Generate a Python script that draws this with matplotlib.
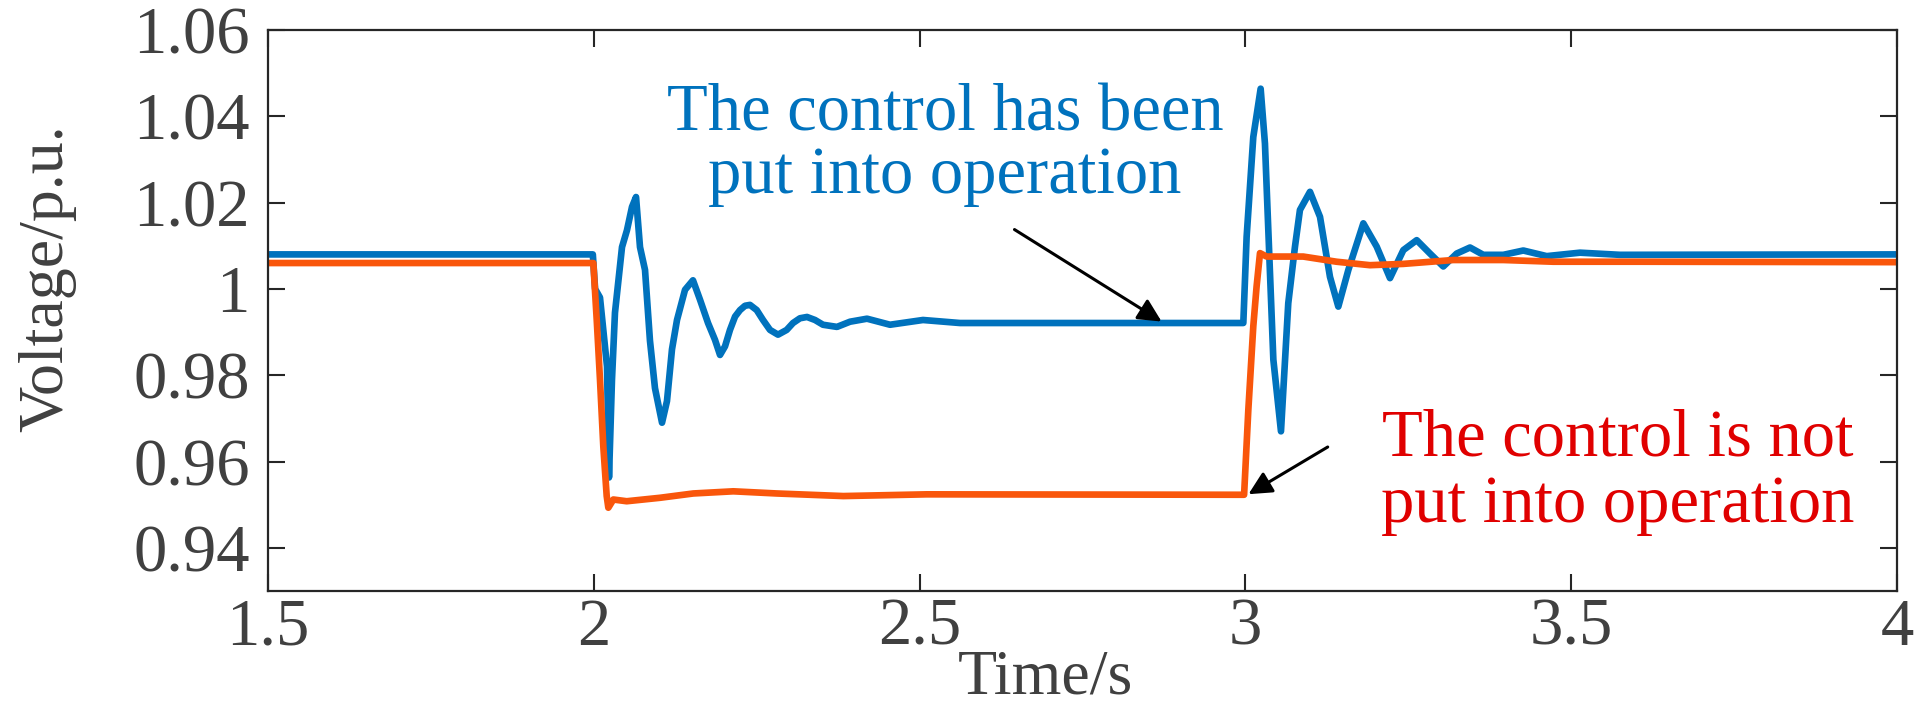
import numpy as np
import matplotlib
matplotlib.use('Agg')
import matplotlib.pyplot as plt

# Fonte serifada (estilo Times)
plt.rcParams['font.family'] = 'serif'
plt.rcParams['font.serif'] = ['Liberation Serif', 'Times New Roman', 'DejaVu Serif']

# Curva com controle (azul)
t_on = [1.5, 1.9985, 2.0020, 2.0095, 2.0203, 2.0233, 2.0279, 2.0325, 2.0433, 2.0509,
        2.0586, 2.0648, 2.0709, 2.0786, 2.0862, 2.0939, 2.1047, 2.1123, 2.1200, 2.1277,
        2.1400, 2.1522, 2.1630, 2.1753, 2.1860, 2.1937, 2.2014, 2.2090, 2.2168, 2.2244,
        2.2321, 2.2397, 2.2500, 2.2597, 2.2704, 2.2827, 2.2960, 2.3057, 2.3164, 2.3272,
        2.3395, 2.3517, 2.3732, 2.3932, 2.4193, 2.4546, 2.5052, 2.5620, 2.9968,
        3.0019, 3.0121, 3.0234, 3.0300, 3.0429, 3.0546, 3.0658, 3.0761, 3.0837, 3.0991,
        3.1145, 3.1298, 3.1426, 3.1580, 3.1810, 3.2015, 3.2219, 3.2424, 3.2629, 3.2833,
        3.3037, 3.3243, 3.3447, 3.3651, 3.3958, 3.4265, 3.4624, 3.5135, 3.5749, 4.0]
v_on = [1.0080, 1.0080, 1.0000, 0.9980, 0.9820, 0.9563, 0.9790, 0.9945, 1.0097, 1.0136,
        1.0190, 1.0213, 1.0097, 1.0044, 0.9880, 0.9770, 0.9690, 0.9740, 0.9860, 0.9928,
        0.9998, 1.0020, 0.9975, 0.9921, 0.9882, 0.9847, 0.9867, 0.9905, 0.9936, 0.9951,
        0.9961, 0.9963, 0.9951, 0.9928, 0.9905, 0.9894, 0.9905, 0.9921, 0.9932, 0.9935,
        0.9928, 0.9917, 0.9912, 0.9924, 0.9931, 0.9917, 0.9928, 0.9921, 0.9921,
        1.0121, 1.0352, 1.0464, 1.0337, 0.9836, 0.9670, 0.9967, 1.0098, 1.0183, 1.0225,
        1.0167, 1.0028, 0.9959, 1.0044, 1.0152, 1.0098, 1.0025, 1.0090, 1.0113, 1.0082,
        1.0052, 1.0082, 1.0096, 1.0079, 1.0079, 1.0089, 1.0076, 1.0084, 1.0079, 1.0080]

# Curva sem controle (laranja)
t_off = [1.5, 1.9993, 2.0045, 2.0095, 2.0146, 2.0198, 2.0223, 2.0300, 2.0505, 2.1016,
         2.1527, 2.2141, 2.2807, 2.3829, 2.5108, 2.9980, 3.0045, 3.0121, 3.0172, 3.0224,
         3.0326, 3.0888, 3.1400, 3.1911, 3.2423, 3.3190, 3.3958, 3.4725, 3.6056, 4.0]
v_off = [1.0060, 1.0060, 0.9928, 0.9790, 0.9635, 0.9520, 0.9493, 0.9512, 0.9508, 0.9516,
         0.9526, 0.9531, 0.9526, 0.9520, 0.9524, 0.9523, 0.9720, 0.9913, 1.0006, 1.0083,
         1.0075, 1.0075, 1.0063, 1.0055, 1.0058, 1.0067, 1.0067, 1.0063, 1.0063, 1.0062]

x_ticks = [1.5, 2, 2.5, 3, 3.5, 4]
x_labels = ['1.5', '2', '2.5', '3', '3.5', '4']
y_ticks = [0.94, 0.96, 0.98, 1.0, 1.02, 1.04, 1.06]
y_labels = ['0.94', '0.96', '0.98', '1', '1.02', '1.04', '1.06']

azul = '#0072BD'
laranja = '#F9560B'
vermelho = '#E00000'
cinza = '#404040'

fig = plt.figure(figsize=(19.31, 7.24), dpi=100)
ax = fig.add_axes([268/1931, 1 - 591/724, (1897 - 268)/1931, (591 - 30)/724])

ax.plot(t_on, v_on, color=azul, lw=4.8, solid_joinstyle='round')
ax.plot(t_off, v_off, color=laranja, lw=4.8, solid_joinstyle='round')

ax.set_xlim(1.5, 4)
ax.set_ylim(0.93, 1.06)
ax.set_xticks(x_ticks)
ax.set_xticklabels(x_labels)
ax.set_yticks(y_ticks)
ax.set_yticklabels(y_labels)

ax.tick_params(direction='in', length=12, width=1.5, top=True, right=True,
               labelsize=48, labelcolor=cinza, color='#262626')
ax.tick_params(axis='x', pad=5)
ax.tick_params(axis='y', pad=13)
for s in ax.spines.values():
    s.set_linewidth(1.6)
    s.set_color('#262626')

ax.set_xlabel('Time/s', fontsize=46, color=cinza)
ax.xaxis.set_label_coords(0.477, -0.105)
ax.set_ylabel('Voltage/p.u.', fontsize=46, color=cinza)
ax.yaxis.set_label_coords(-0.1175, 0.558)

# Textos e setas
ax.text(2.539, 1.0333, 'The control has been\nput into operation', color=azul,
        fontsize=48, ha='center', va='center', linespacing=1.05)
ax.annotate('', xy=(2.875, 0.9921), xytext=(2.642, 1.0141),
            arrowprops=dict(arrowstyle='-|>', color='k', lw=2.2, mutation_scale=35))

ax.text(3.572, 0.9575, 'The control is not\nput into operation', color=vermelho,
        fontsize=48, ha='center', va='center', linespacing=1.1)
ax.annotate('', xy=(3.001, 0.9521), xytext=(3.130, 0.9637),
            arrowprops=dict(arrowstyle='-|>', color='k', lw=2.2, mutation_scale=35))

plt.savefig('out.png', dpi=100)
